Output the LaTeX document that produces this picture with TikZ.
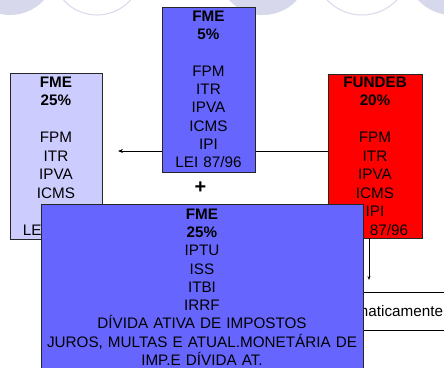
\documentclass[tikz,border=0pt]{standalone}
\usepackage{fontspec}
\setmainfont{Liberation Sans}
\usetikzlibrary{arrows.meta}
\definecolor{lavcircle}{RGB}{216,216,236}
\definecolor{fmeblue}{RGB}{102,102,255}
\definecolor{fmelight}{RGB}{204,204,255}
\begin{document}
\begin{tikzpicture}[x=1bp,y=-1bp,
        fund/.style={draw=black!85,line width=0.8bp,align=center,inner sep=0pt,
            font=\fontsize{15.3}{18.6}\selectfont},
        link/.style={line width=1bp,-{Stealth[length=5bp,width=4bp]}}
    ]
    \useasboundingbox (0,0) rectangle (444,367);
    % circles at the top
    \fill[lavcircle] (10,-31) circle (46);
    \draw[lavcircle,line width=1bp] (97,-30) circle (45);
    \fill[lavcircle] (263,-31) circle (46);
    \draw[lavcircle,line width=1bp] (362,-33) circle (48);
    \fill[lavcircle] (452,-31) circle (46);
    % side boxes
    \node[fund,fill=fmelight,minimum width=92bp,minimum height=166bp,text width=90bp] (fme25) at (56,156)
        {\textbf{FME}\\ \textbf{25\%}\\ ~\\ FPM\\ ITR\\ IPVA\\ ICMS\\ IPI\\ LEI 87/96};
    \node[fund,fill=red,minimum width=94bp,minimum height=164bp,text width=92bp] (fundeb) at (375,156)
        {\textbf{FUNDEB}\\ \textbf{20\%}\\ ~\\ FPM\\ ITR\\ IPVA\\ ICMS\\ IPI\\ LEI 87/96};
    \coordinate (tipL) at (118,151);
    \draw[link] (fundeb.west |- tipL) -- (tipL);
    % top box
    \node[fund,fill=fmeblue,minimum width=93bp,minimum height=165bp,text width=90bp,
        font=\fontsize{15.3}{18.3}\selectfont] (fme5) at (208.5,89.5)
        {\textbf{FME}\\ \textbf{5\%}\\ ~\\ FPM\\ ITR\\ IPVA\\ ICMS\\ IPI\\ LEI 87/96};
    \node[font=\fontsize{20}{24}\bfseries\selectfont,inner sep=0pt] (plus) at (200.5,187.5) {+};
    % down arrow and the box under it
    \coordinate (tipD) at (369,280);
    \draw[link,line width=0.8bp,-{Stealth[length=4bp,width=3bp]}] (fundeb.south -| tipD) -- (tipD);
    \node[draw=black,fill=white,line width=0.8bp,minimum width=150bp,minimum height=38bp,
        text width=138bp,inner xsep=6bp,align=right,font=\fontsize{15.3}{18}\selectfont] (autobox) at (374,311)
        {maticamente};
    % lower box
    \node[fund,fill=fmeblue,anchor=north,minimum width=322bp,text width=318bp,inner ysep=4.6bp,
        font=\fontsize{15.3}{18.3}\selectfont] (fmeown) at (202,204)
        {\textbf{FME}\\ \textbf{25\%}\\ IPTU\\ ISS\\ ITBI\\ IRRF\\ DÍVIDA ATIVA DE IMPOSTOS\\
         JUROS, MULTAS E ATUAL.MONETÁRIA DE\\ IMP.E DÍVIDA AT.};
\end{tikzpicture}
\end{document}
